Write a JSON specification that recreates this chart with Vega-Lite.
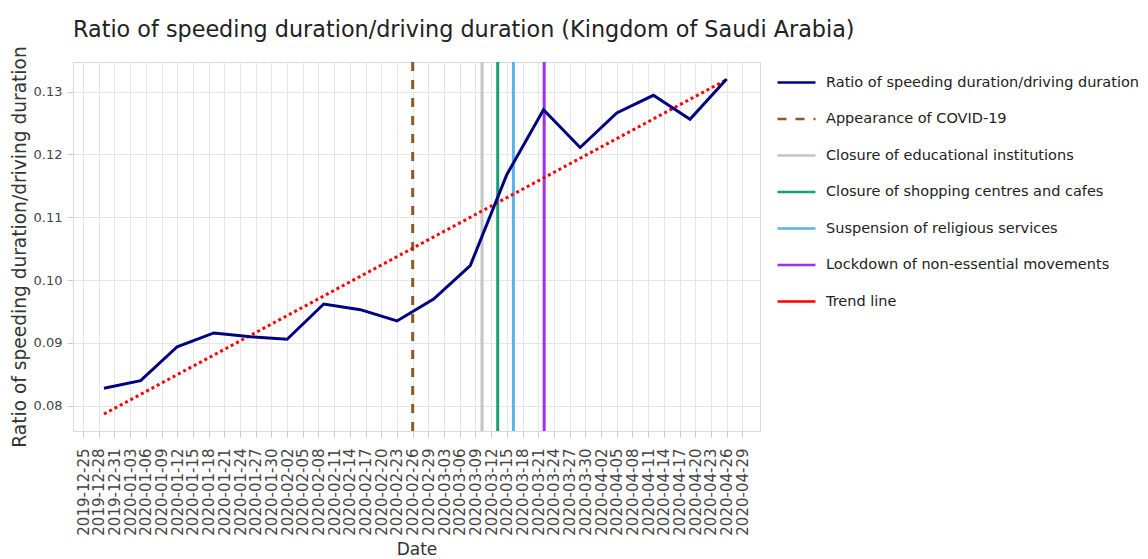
{
  "$schema": "https://vega.github.io/schema/vega-lite/v6.json",
  "autosize": "none",
  "padding": {"left": 73, "top": 62, "right": 388, "bottom": 128},
  "width": 687,
  "height": 369,
  "background": "white",
  "config": {
    "font": "DejaVu Sans",
    "view": {"stroke": "#d9d9d9", "strokeWidth": 1},
    "axis": {"gridColor": "#e6e6e6", "gridWidth": 1, "tickColor": "#cccccc", "tickSize": 6, "domain": false, "labelColor": "#444444", "titleColor": "#333333", "titleFontWeight": "normal"}
  },
  "title": {"text": "Ratio of speeding duration/driving duration (Kingdom of Saudi Arabia)", "anchor": "start", "frame": "group", "fontSize": 22.3, "fontWeight": "normal", "color": "#222222", "offset": 15, "dy": 10},
  "datasets": {
    "ratio": [
      {"date": "2019-12-29", "value": 0.0828, "series": "Ratio of speeding duration/driving duration"},
      {"date": "2020-01-05", "value": 0.0840, "series": "Ratio of speeding duration/driving duration"},
      {"date": "2020-01-12", "value": 0.0894, "series": "Ratio of speeding duration/driving duration"},
      {"date": "2020-01-19", "value": 0.0916, "series": "Ratio of speeding duration/driving duration"},
      {"date": "2020-01-26", "value": 0.0910, "series": "Ratio of speeding duration/driving duration"},
      {"date": "2020-02-02", "value": 0.0906, "series": "Ratio of speeding duration/driving duration"},
      {"date": "2020-02-09", "value": 0.0962, "series": "Ratio of speeding duration/driving duration"},
      {"date": "2020-02-16", "value": 0.0953, "series": "Ratio of speeding duration/driving duration"},
      {"date": "2020-02-23", "value": 0.0935, "series": "Ratio of speeding duration/driving duration"},
      {"date": "2020-03-01", "value": 0.0970, "series": "Ratio of speeding duration/driving duration"},
      {"date": "2020-03-08", "value": 0.1023, "series": "Ratio of speeding duration/driving duration"},
      {"date": "2020-03-15", "value": 0.1168, "series": "Ratio of speeding duration/driving duration"},
      {"date": "2020-03-22", "value": 0.1271, "series": "Ratio of speeding duration/driving duration"},
      {"date": "2020-03-29", "value": 0.1211, "series": "Ratio of speeding duration/driving duration"},
      {"date": "2020-04-05", "value": 0.1266, "series": "Ratio of speeding duration/driving duration"},
      {"date": "2020-04-12", "value": 0.1294, "series": "Ratio of speeding duration/driving duration"},
      {"date": "2020-04-19", "value": 0.1256, "series": "Ratio of speeding duration/driving duration"},
      {"date": "2020-04-26", "value": 0.1320, "series": "Ratio of speeding duration/driving duration"}
    ],
    "events": [
      {"date": "2020-02-26T00:00:00Z", "series": "Appearance of COVID-19"},
      {"date": "2020-03-10T06:00:00Z", "series": "Closure of educational institutions"},
      {"date": "2020-03-13T06:00:00Z", "series": "Closure of shopping centres and cafes"},
      {"date": "2020-03-16T06:00:00Z", "series": "Suspension of religious services"},
      {"date": "2020-03-22T03:00:00Z", "series": "Lockdown of non-essential movements"}
    ],
    "trend": [
      {"date": "2019-12-29", "value": 0.0787, "series": "Trend line"},
      {"date": "2020-04-26", "value": 0.1319, "series": "Trend line"}
    ]
  },
  "encoding": {
    "x": {
      "field": "date", "type": "temporal", "title": "Date",
      "scale": {"type": "utc", "domain": [{"year": 2019, "month": 12, "date": 23, "hours": 2, "utc": true}, {"year": 2020, "month": 5, "date": 2, "hours": 9, "utc": true}]},
      "axis": {
        "labelExpr": "utcFormat(datum.value, '%Y-%m-%d')", "labelAngle": 270, "labelAlign": "right", "labelBaseline": "middle",
        "labelFontSize": 15, "labelPadding": 11, "labelOverlap": false, "labelFlush": false,
        "titleFontSize": 17, "titleY": 123, "titleBaseline": "alphabetic",
        "values": [
          {"year": 2019, "month": 12, "date": 25, "utc": true}, {"year": 2019, "month": 12, "date": 28, "utc": true}, {"year": 2019, "month": 12, "date": 31, "utc": true},
          {"year": 2020, "month": 1, "date": 3, "utc": true}, {"year": 2020, "month": 1, "date": 6, "utc": true}, {"year": 2020, "month": 1, "date": 9, "utc": true},
          {"year": 2020, "month": 1, "date": 12, "utc": true}, {"year": 2020, "month": 1, "date": 15, "utc": true}, {"year": 2020, "month": 1, "date": 18, "utc": true},
          {"year": 2020, "month": 1, "date": 21, "utc": true}, {"year": 2020, "month": 1, "date": 24, "utc": true}, {"year": 2020, "month": 1, "date": 27, "utc": true},
          {"year": 2020, "month": 1, "date": 30, "utc": true}, {"year": 2020, "month": 2, "date": 2, "utc": true}, {"year": 2020, "month": 2, "date": 5, "utc": true},
          {"year": 2020, "month": 2, "date": 8, "utc": true}, {"year": 2020, "month": 2, "date": 11, "utc": true}, {"year": 2020, "month": 2, "date": 14, "utc": true},
          {"year": 2020, "month": 2, "date": 17, "utc": true}, {"year": 2020, "month": 2, "date": 20, "utc": true}, {"year": 2020, "month": 2, "date": 23, "utc": true},
          {"year": 2020, "month": 2, "date": 26, "utc": true}, {"year": 2020, "month": 2, "date": 29, "utc": true}, {"year": 2020, "month": 3, "date": 3, "utc": true},
          {"year": 2020, "month": 3, "date": 6, "utc": true}, {"year": 2020, "month": 3, "date": 9, "utc": true}, {"year": 2020, "month": 3, "date": 12, "utc": true},
          {"year": 2020, "month": 3, "date": 15, "utc": true}, {"year": 2020, "month": 3, "date": 18, "utc": true}, {"year": 2020, "month": 3, "date": 21, "utc": true},
          {"year": 2020, "month": 3, "date": 24, "utc": true}, {"year": 2020, "month": 3, "date": 27, "utc": true}, {"year": 2020, "month": 3, "date": 30, "utc": true},
          {"year": 2020, "month": 4, "date": 2, "utc": true}, {"year": 2020, "month": 4, "date": 5, "utc": true}, {"year": 2020, "month": 4, "date": 8, "utc": true},
          {"year": 2020, "month": 4, "date": 11, "utc": true}, {"year": 2020, "month": 4, "date": 14, "utc": true}, {"year": 2020, "month": 4, "date": 17, "utc": true},
          {"year": 2020, "month": 4, "date": 20, "utc": true}, {"year": 2020, "month": 4, "date": 23, "utc": true}, {"year": 2020, "month": 4, "date": 26, "utc": true},
          {"year": 2020, "month": 4, "date": 29, "utc": true}
        ]
      }
    },
    "color": {
      "field": "series", "type": "nominal",
      "scale": {
        "domain": ["Ratio of speeding duration/driving duration", "Appearance of COVID-19", "Closure of educational institutions", "Closure of shopping centres and cafes", "Suspension of religious services", "Lockdown of non-essential movements", "Trend line"],
        "range": ["#000080", "#8b5a2b", "#c4c4c4", "#17a076", "#5ab4ec", "#a02ff0", "#ff0000"]
      },
      "legend": {
        "title": null, "orient": "none", "legendX": 703, "legendY": 0,
        "symbolType": "stroke", "symbolSize": 1444, "symbolStrokeWidth": 2.5,
        "labelFontSize": 14.5, "labelColor": "#222222", "labelLimit": 400, "labelOffset": 9,
        "rowPadding": 9.5
      }
    }
  },
  "layer": [
    {
      "data": {"name": "events"},
      "mark": {"type": "rule", "strokeWidth": 3},
      "encoding": {
        "strokeDash": {
          "field": "series", "type": "nominal",
          "scale": {
            "domain": ["Ratio of speeding duration/driving duration", "Appearance of COVID-19", "Closure of educational institutions", "Closure of shopping centres and cafes", "Suspension of religious services", "Lockdown of non-essential movements", "Trend line"],
            "range": [[1, 0], [9, 9], [1, 0], [1, 0], [1, 0], [1, 0], [1, 0]]
          },
          "legend": {"title": null}
        }
      }
    },
    {
      "data": {"name": "trend"},
      "mark": {"type": "line", "strokeWidth": 3, "strokeDash": [3, 3]},
      "encoding": {
        "y": {"field": "value", "type": "quantitative"}
      }
    },
    {
      "data": {"name": "ratio"},
      "mark": {"type": "line", "strokeWidth": 3},
      "encoding": {
        "y": {
          "field": "value", "type": "quantitative",
          "title": "Ratio of speeding duration/driving duration",
          "scale": {"domain": [0.076, 0.1347], "nice": false, "zero": false},
          "axis": {"values": [0.08, 0.09, 0.10, 0.11, 0.12, 0.13], "format": ".2f", "labelFontSize": 13, "labelPadding": 5, "titleFontSize": 18.6, "titleX": -48, "titleBaseline": "alphabetic", "titleAngle": 270}
        }
      }
    }
  ]
}
